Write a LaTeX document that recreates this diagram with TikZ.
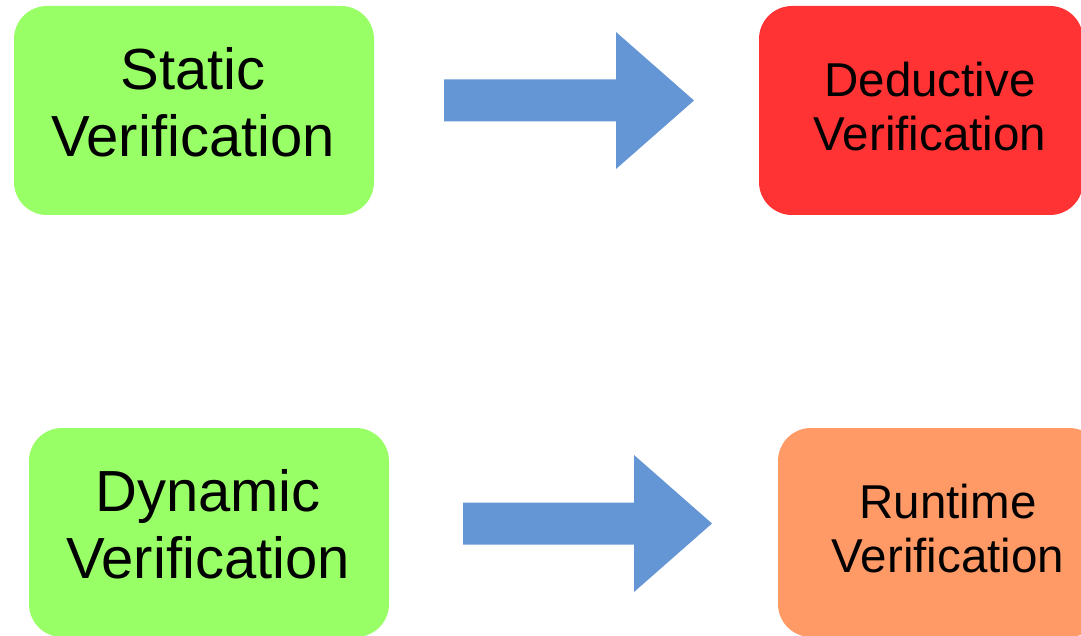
\documentclass[tikz,border=0pt]{standalone}
\usepackage{fontspec}
\setmainfont{Liberation Sans}
\definecolor{staticgreen}{HTML}{99FF66}
\definecolor{deductred}{HTML}{FF3333}
\definecolor{runtimeorange}{HTML}{FF9966}
\definecolor{arrowblue}{HTML}{6496D6}
\tikzset{
  stagebox/.style={rounded corners=33pt, minimum width=360pt, minimum height=209pt,
    inner sep=0pt, draw=none},
  bigtext/.style={align=center, inner sep=0pt, font=\fontsize{58}{67}\selectfont},
  smalltext/.style={align=center, inner sep=0pt, font=\fontsize{47.5}{54.5}\selectfont},
  blockarrow/.style={fill=arrowblue, draw=none}
}
% block arrow: #1 = tail coordinate, #2 = length, shaft half width 21, head 78 long, 68.5 half width
\newcommand{\flowarrow}[2]{%
  \fill[blockarrow] (#1) ++(0,-21) -- ++(#2-78,0) -- ++(0,-47.5) -- ++(78,68.5)
    -- ++(-78,68.5) -- ++(0,-47.5) -- ++(-#2+78,0) -- cycle;}
\begin{document}
\begin{tikzpicture}[x=1pt,y=-1pt]
\useasboundingbox (0,0) rectangle (1081,636);
\clip (0,0) rectangle (1081,636);

% boxes
\node[stagebox, fill=staticgreen] (static) at (194,110.5) {};
\node[stagebox, fill=deductred, minimum width=324pt] (deductive) at (921,110.5) {};
\node[stagebox, fill=staticgreen] (dynamic) at (209,532.5) {};
\node[stagebox, fill=runtimeorange, minimum width=324pt] (runtime) at (940,532.5) {};

% labels
\node[bigtext] (static-label) at ([xshift=-1pt,yshift=8pt]static.center) {Static\\Verification};
\node[smalltext] (deductive-label) at ([xshift=9pt,yshift=4pt]deductive.center) {Deductive\\Verification};
\node[bigtext] (dynamic-label) at ([xshift=-1pt,yshift=8pt]dynamic.center) {Dynamic\\Verification};
\node[smalltext] (runtime-label) at ([xshift=8pt,yshift=4pt]runtime.center) {Runtime\\Verification};

% arrows between the stages
\coordinate (toptail) at (444,100.5);
\coordinate (bottail) at (463,523.5);
\flowarrow{toptail}{250}
\flowarrow{bottail}{249}
\end{tikzpicture}
\end{document}
